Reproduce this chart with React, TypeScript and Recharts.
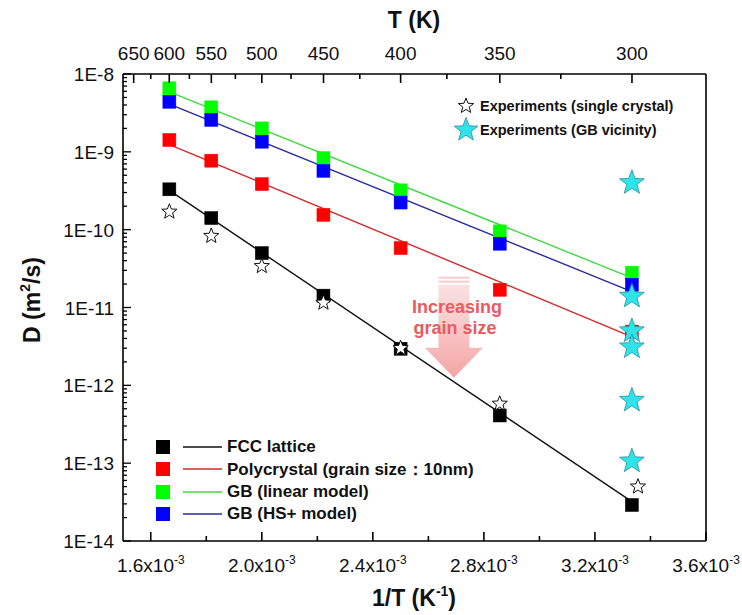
import React from 'react';
import { ComposedChart, Scatter, XAxis, YAxis, ReferenceDot } from 'recharts';

// 1/T positions of the simulated temperatures 600 ... 300 K
const invT = [1.667e-3, 1.818e-3, 2.0e-3, 2.222e-3, 2.5e-3, 2.857e-3, 3.333e-3];

const fccD = [3.3e-10, 1.41e-10, 5.0e-11, 1.42e-11, 2.95e-12, 4.1e-13, 2.9e-14];
const polyD = [1.42e-9, 7.7e-10, 3.85e-10, 1.55e-10, 5.8e-11, 1.69e-11, 4.9e-12];
const gbLinearD = [6.55e-9, 3.73e-9, 2.0e-9, 8.3e-10, 3.2e-10, 9.5e-11, 2.8e-11];
const gbHsD = [4.4e-9, 2.57e-9, 1.35e-9, 5.7e-10, 2.23e-10, 6.6e-11, 1.96e-11];

// Arrhenius fit lines (600 K -> 300 K)
const fitX = [1.667e-3, 3.333e-3];
const fccFit = [3.2e-10, 3.2e-14];
const polyFit = [1.24e-9, 4.2e-12];
const gbLinearFit = [5.9e-9, 2.4e-11];
const gbHsFit = [4.1e-9, 1.6e-11];

// experiments
const singleCrystalX = [1.667e-3, 1.818e-3, 2.0e-3, 2.222e-3, 2.5e-3, 2.857e-3, 3.355e-3];
const singleCrystalD = [1.7e-10, 8.3e-11, 3.4e-11, 1.15e-11, 3.0e-12, 5.8e-13, 5.0e-14];
const gbVicinityX = [3.333e-3, 3.333e-3, 3.333e-3, 3.333e-3, 3.333e-3, 3.333e-3];
const gbVicinityD = [4.0e-10, 1.39e-11, 5.0e-12, 3.1e-12, 6.4e-13, 1.06e-13];

// axes
const xMajorTicks = [1.6e-3, 2.0e-3, 2.4e-3, 2.8e-3, 3.2e-3, 3.6e-3];
const xMinorTicks = [1.8e-3, 2.2e-3, 2.6e-3, 3.0e-3, 3.4e-3];
const tMajorTicks = [650, 600, 550, 500, 450, 400, 350, 300];
const tMinorTicks = [625, 575, 525, 475, 425, 375, 325];
const yDecades = [1e-14, 1e-13, 1e-12, 1e-11, 1e-10, 1e-9, 1e-8];
const yMinorSteps = [2, 3, 4, 5, 6, 7, 8, 9];

const legendRows = [
  { label: 'FCC lattice', fill: '#000000', line: '#111111' },
  { label: 'Polycrystal (grain size：10nm)', fill: '#ff0000', line: '#d42a2a' },
  { label: 'GB (linear model)', fill: '#00ff00', line: '#44d844' },
  { label: 'GB (HS+ model)', fill: '#0000ff', line: '#2a2a9c' },
];

const FONT = '"Liberation Sans", Arial, Helvetica, sans-serif';
const CYAN = '#2ee4ea';

const pts = (xs: number[], ys: number[]) => xs.map((x, i) => ({ x, y: ys[i] }));

const bottomTicks = [...xMajorTicks, ...xMinorTicks].sort((a, b) => a - b);
const topTicks = [...tMajorTicks, ...tMinorTicks].map((t) => 1 / t).sort((a, b) => a - b);
const yTicks = [
  ...yDecades,
  ...yDecades.slice(0, -1).flatMap((d) => yMinorSteps.map((m) => d * m)),
].sort((a, b) => a - b);

const starPath = (cx: number, cy: number, R: number, r: number) => {
  let d = '';
  for (let i = 0; i < 10; i++) {
    const a = -Math.PI / 2 + (i * Math.PI) / 5;
    const rad = i % 2 === 0 ? R : r;
    d += (i ? 'L' : 'M') + (cx + rad * Math.cos(a)).toFixed(2) + ',' + (cy + rad * Math.sin(a)).toFixed(2);
  }
  return d + 'Z';
};

const square = (fill: string) => (p: any) => (
  <rect x={p.cx - 6.5} y={p.cy - 6.5} width={13} height={13} fill={fill} stroke={fill} strokeWidth={0.5} />
);
const openStar = (p: any) => (
  <path d={starPath(p.cx, p.cy, 8, 3.4)} fill="#fff" stroke="#111" strokeWidth={1} />
);
const cyanStar = (p: any) => (
  <path d={starPath(p.cx, p.cy, 13, 5.4)} fill={CYAN} stroke="#2a8f9a" strokeWidth={0.8} />
);
const noShape = () => <g />;

const BottomTick = (p: any) => {
  const v = p.payload.value;
  const major = xMajorTicks.some((m) => Math.abs(m - v) < 1e-9);
  return (
    <g>
      <line x1={p.x} x2={p.x} y1={p.y} y2={p.y - (major ? 9 : 5)} stroke="#000" strokeWidth={1.6} />
      {major && (
        <text x={p.x} y={p.y + 31} textAnchor="middle" fontSize={19} fontFamily={FONT} fill="#111">
          {(v * 1000).toFixed(1)}x10
          <tspan dy={-8} fontSize={12}>-3</tspan>
        </text>
      )}
    </g>
  );
};

const TopTick = (p: any) => {
  const t = Math.round(1 / p.payload.value);
  const major = tMajorTicks.includes(t);
  return (
    <g>
      <line x1={p.x} x2={p.x} y1={p.y} y2={p.y + (major ? 9 : 5)} stroke="#000" strokeWidth={1.6} />
      {major && (
        <text x={p.x} y={p.y - 14} textAnchor="middle" fontSize={19} fontFamily={FONT} fill="#111">
          {t}
        </text>
      )}
    </g>
  );
};

const LeftTick = (p: any) => {
  const v = p.payload.value;
  const e = Math.log10(v);
  const major = Math.abs(e - Math.round(e)) < 1e-6;
  return (
    <g>
      <line x1={p.x} x2={p.x + (major ? 8 : 4)} y1={p.y} y2={p.y} stroke="#000" strokeWidth={1.3} />
      {major && (
        <text x={p.x - 9} y={p.y + 7} textAnchor="end" fontSize={19} fontFamily={FONT} fill="#111">
          {`1E${Math.round(e)}`}
        </text>
      )}
    </g>
  );
};

const GrainArrow = ({ cx, cy }: any) => {
  const bw = 15.5;
  const hw = 29;
  const bodyTop = cy + 8;
  const headTop = cy + 71;
  const tip = cy + 101;
  return (
    <g>
      <defs>
        <linearGradient id="arrowGrad" x1="0" y1="0" x2="0" y2="1">
          <stop offset="0" stopColor="#f8d0d0" stopOpacity={0.65} />
          <stop offset="1" stopColor="#f29494" stopOpacity={0.85} />
        </linearGradient>
      </defs>
      <rect x={cx - bw} y={cy} width={2 * bw} height={2} fill="#f7cccc" />
      <rect x={cx - bw} y={cy + 4} width={2 * bw} height={2} fill="#f7cccc" />
      <path
        d={`M${cx - bw},${bodyTop} L${cx + bw},${bodyTop} L${cx + bw},${headTop} L${cx + hw},${headTop} L${cx},${tip} L${cx - hw},${headTop} L${cx - bw},${headTop} Z`}
        fill="url(#arrowGrad)"
      />
      <text x={cx + 3} y={cy + 36} textAnchor="middle" fontSize={18} fontWeight="bold" fontFamily={FONT} fill="#ec5a61">
        Increasing
      </text>
      <text x={cx + 1} y={cy + 57} textAnchor="middle" fontSize={18} fontWeight="bold" fontFamily={FONT} fill="#ec5a61">
        grain size
      </text>
    </g>
  );
};

const Marker = ({ kind, fill }: { kind: string; fill: string }) => (
  <svg width={28} height={28} style={{ display: 'block' }}>
    {kind === 'open' ? (
      <path d={starPath(14, 14, 8, 3.4)} fill="#fff" stroke="#111" strokeWidth={1} />
    ) : (
      <path d={starPath(14, 14, 12.5, 5.2)} fill={fill} stroke="#2a8f9a" strokeWidth={0.8} />
    )}
  </svg>
);

export default function App() {
  return (
    <div style={{ position: 'absolute', left: 0, top: 0, width: 742, height: 615, background: '#fff', fontFamily: FONT }}>
      <ComposedChart width={742} height={615} margin={{ top: 0, right: 0, bottom: 0, left: 0 }}>
        <XAxis
          xAxisId="b"
          type="number"
          dataKey="x"
          domain={[1.5e-3, 3.6e-3]}
          allowDataOverflow
          ticks={bottomTicks}
          interval={0}
          height={74}
          tickSize={0}
          tickMargin={0}
          tickLine={false}
          tick={(p: any) => <BottomTick {...p} />}
          axisLine={{ stroke: '#000', strokeWidth: 1.6 }}
        />
        <XAxis
          xAxisId="t"
          orientation="top"
          type="number"
          dataKey="x"
          domain={[1.5e-3, 3.6e-3]}
          allowDataOverflow
          ticks={topTicks}
          interval={0}
          height={74}
          tickSize={0}
          tickMargin={0}
          tickLine={false}
          tick={(p: any) => <TopTick {...p} />}
          axisLine={{ stroke: '#000', strokeWidth: 1.6 }}
        />
        <YAxis
          yAxisId="l"
          type="number"
          dataKey="y"
          scale="log"
          domain={[1e-14, 1e-8]}
          allowDataOverflow
          ticks={yTicks}
          interval={0}
          width={123}
          tickSize={0}
          tickMargin={0}
          tickLine={false}
          tick={(p: any) => <LeftTick {...p} />}
          axisLine={{ stroke: '#000', strokeWidth: 1.6 }}
        />
        <YAxis
          yAxisId="r"
          orientation="right"
          type="number"
          dataKey="y"
          scale="log"
          domain={[1e-14, 1e-8]}
          allowDataOverflow
          width={36}
          tick={false}
          tickLine={false}
          axisLine={{ stroke: '#000', strokeWidth: 1.6 }}
        />

        <ReferenceDot
          xAxisId="b"
          yAxisId="l"
          x={2.692e-3}
          y={2.49e-11}
          shape={(p: any) => <GrainArrow cx={p.cx} cy={p.cy} />}
        />

        <Scatter xAxisId="b" yAxisId="l" data={pts(fitX, fccFit)} line={{ stroke: legendRows[0].line, strokeWidth: 1.4 }} shape={noShape} isAnimationActive={false} />
        <Scatter xAxisId="b" yAxisId="l" data={pts(fitX, polyFit)} line={{ stroke: legendRows[1].line, strokeWidth: 1.4 }} shape={noShape} isAnimationActive={false} />
        <Scatter xAxisId="b" yAxisId="l" data={pts(fitX, gbLinearFit)} line={{ stroke: legendRows[2].line, strokeWidth: 1.4 }} shape={noShape} isAnimationActive={false} />
        <Scatter xAxisId="b" yAxisId="l" data={pts(fitX, gbHsFit)} line={{ stroke: legendRows[3].line, strokeWidth: 1.4 }} shape={noShape} isAnimationActive={false} />

        <Scatter xAxisId="b" yAxisId="l" data={pts(invT, fccD)} shape={square(legendRows[0].fill)} isAnimationActive={false} />
        <Scatter xAxisId="b" yAxisId="l" data={pts(invT, polyD)} shape={square(legendRows[1].fill)} isAnimationActive={false} />
        <Scatter xAxisId="b" yAxisId="l" data={pts(invT, gbLinearD)} shape={square(legendRows[2].fill)} isAnimationActive={false} />
        <Scatter xAxisId="b" yAxisId="l" data={pts(invT, gbHsD)} shape={square(legendRows[3].fill)} isAnimationActive={false} />

        <Scatter xAxisId="b" yAxisId="l" data={pts(singleCrystalX, singleCrystalD)} shape={openStar} isAnimationActive={false} />
        <Scatter xAxisId="b" yAxisId="l" data={pts(gbVicinityX, gbVicinityD)} shape={cyanStar} isAnimationActive={false} />
      </ComposedChart>

      {/* axis titles */}
      <div style={{ position: 'absolute', left: 314, width: 200, top: 6, textAlign: 'center', fontSize: 23, fontWeight: 'bold', color: '#111', lineHeight: '28px' }}>
        T (K)
      </div>
      <div style={{ position: 'absolute', left: 314, width: 200, top: 584, textAlign: 'center', fontSize: 23, fontWeight: 'bold', color: '#111', lineHeight: '28px' }}>
        1/T (K<sup style={{ fontSize: 14, verticalAlign: 'top', lineHeight: '14px' }}>-1</sup>)
      </div>
      <div
        style={{
          position: 'absolute', left: 32 - 100, top: 300 - 14, width: 200, textAlign: 'center', fontSize: 23, fontWeight: 'bold',
          color: '#111', lineHeight: '28px', transform: 'rotate(-90deg)', transformOrigin: '100px 14px',
        }}
      >
        D (m<sup style={{ fontSize: 14, verticalAlign: 'top', lineHeight: '14px' }}>2</sup>/s)
      </div>

      {/* experiments legend */}
      <div style={{ position: 'absolute', left: 452, top: 94, fontSize: 14.5, fontWeight: 'bold', color: '#111' }}>
        <div style={{ display: 'flex', alignItems: 'center', height: 24 }}>
          <Marker kind="open" fill="#fff" />
          <span style={{ marginLeft: 0 }}>Experiments (single crystal)</span>
        </div>
        <div style={{ display: 'flex', alignItems: 'center', height: 24 }}>
          <Marker kind="cyan" fill={CYAN} />
          <span style={{ marginLeft: 0 }}>Experiments (GB vicinity)</span>
        </div>
      </div>

      {/* model legend */}
      <div style={{ position: 'absolute', left: 156, top: 436, fontSize: 17, fontWeight: 'bold', color: '#111' }}>
        {legendRows.map((r) => (
          <div key={r.label} style={{ display: 'flex', alignItems: 'center', height: 22.3, whiteSpace: 'nowrap' }}>
            <span style={{ width: 14, height: 14, background: r.fill, display: 'inline-block' }} />
            <svg width={52} height={10} style={{ display: 'block' }}>
              <line x1={13} x2={52} y1={5} y2={5} stroke={r.line} strokeWidth={1.5} />
            </svg>
            <span style={{ marginLeft: 5 }}>{r.label}</span>
          </div>
        ))}
      </div>
    </div>
  );
}
